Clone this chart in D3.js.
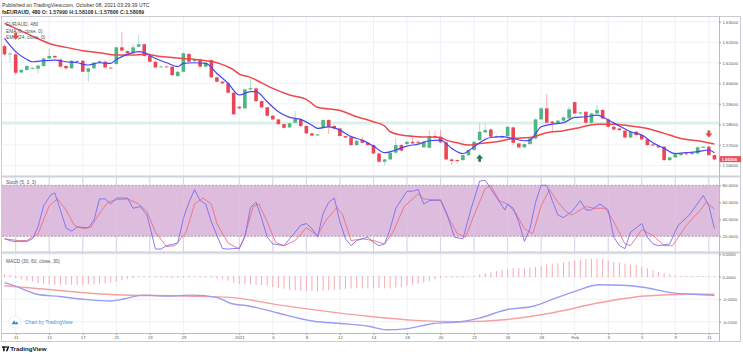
<!DOCTYPE html>
<html><head><meta charset="utf-8">
<script src="https://cdn.jsdelivr.net/npm/d3@7"></script>
<style>body{margin:0;background:#fff;}svg{display:block;font-family:"Liberation Sans",Arial,sans-serif;}</style>
</head><body><svg id="c" width="743" height="356"></svg>
<script>
// ---------- DATA ----------
const opens=[1.6181,1.6141,1.6141,1.6053,1.6065,1.6071,1.6071,1.6084,1.6121,1.6133,1.6116,1.6084,1.6073,1.6108,1.6110,1.6056,1.6073,1.6100,1.6105,1.6076,
1.6094,1.6175,1.6157,1.6146,1.6178,1.6190,1.6133,1.6105,1.6079,1.6082,1.6081,1.6035,1.6056,1.6143,1.6108,1.6116,1.6081,1.6113,1.6029,1.6008,
1.6000,1.5954,1.5886,1.5878,1.5970,1.5975,1.5913,1.5883,1.5842,1.5824,1.5801,1.5785,1.5808,1.5824,1.5792,1.5756,1.5746,1.5785,1.5821,1.5792,
1.5780,1.5743,1.5736,1.5699,1.5723,1.5710,1.5699,1.5658,1.5618,1.5629,1.5662,1.5699,1.5704,1.5715,1.5715,1.5688,1.5686,1.5743,1.5740,1.5712,
1.5629,1.5626,1.5626,1.5650,1.5675,1.5723,1.5761,1.5775,1.5738,1.5743,1.5743,1.5785,1.5707,1.5688,1.5704,1.5731,1.5824,1.5878,1.5813,1.5805,
1.5818,1.5829,1.5908,1.5853,1.5861,1.5808,1.5853,1.5870,1.5824,1.5788,1.5780,1.5769,1.5736,1.5764,1.5748,1.5727,1.5702,1.5694,1.5691,1.5626,
1.5639,1.5650,1.5658,1.5655,1.5658,1.5686,1.5691,1.5650];
const highs=[1.6190,1.6150,1.6154,1.6070,1.6090,1.6080,1.6090,1.6125,1.6170,1.6138,1.6121,1.6088,1.6115,1.6113,1.6113,1.6076,1.6105,1.6113,1.6113,1.6080,
1.6178,1.6251,1.6159,1.6194,1.6235,1.6194,1.6138,1.6110,1.6086,1.6086,1.6086,1.6060,1.6150,1.6150,1.6121,1.6121,1.6105,1.6116,1.6032,1.6010,
1.6003,1.5957,1.5890,1.5975,1.6024,1.5980,1.5916,1.5886,1.5845,1.5827,1.5805,1.5808,1.5865,1.5830,1.5796,1.5760,1.5754,1.5826,1.5826,1.5796,
1.5783,1.5746,1.5740,1.5723,1.5740,1.5712,1.5702,1.5662,1.5634,1.5665,1.5736,1.5704,1.5720,1.5736,1.5720,1.5720,1.5769,1.5764,1.5772,1.5715,
1.5634,1.5629,1.5654,1.5678,1.5720,1.5805,1.5805,1.5780,1.5746,1.5748,1.5792,1.5790,1.5710,1.5708,1.5736,1.5829,1.5883,1.5948,1.5818,1.5822,
1.5838,1.5889,1.5912,1.5862,1.5865,1.5858,1.5894,1.5874,1.5828,1.5792,1.5784,1.5772,1.5768,1.5768,1.5752,1.5731,1.5706,1.5697,1.5695,1.5643,
1.5662,1.5662,1.5662,1.5668,1.5694,1.5694,1.5695,1.5654];
const lows=[1.6135,1.6100,1.6040,1.6048,1.6060,1.6068,1.6048,1.6080,1.6118,1.6120,1.6076,1.6068,1.6070,1.6100,1.6053,1.6008,1.6070,1.6097,1.6073,1.6070,
1.6089,1.6154,1.6141,1.6143,1.6175,1.6130,1.6100,1.6073,1.6076,1.6076,1.6035,1.6030,1.6053,1.6100,1.6100,1.6076,1.6076,1.6025,1.6003,1.5995,
1.5950,1.5845,1.5872,1.5875,1.5965,1.5908,1.5878,1.5838,1.5820,1.5797,1.5780,1.5782,1.5805,1.5788,1.5751,1.5740,1.5743,1.5780,1.5753,1.5775,
1.5740,1.5731,1.5694,1.5694,1.5707,1.5694,1.5655,1.5612,1.5602,1.5624,1.5658,1.5668,1.5700,1.5704,1.5704,1.5685,1.5683,1.5731,1.5707,1.5624,
1.5602,1.5610,1.5621,1.5646,1.5672,1.5720,1.5756,1.5736,1.5733,1.5731,1.5740,1.5700,1.5683,1.5683,1.5699,1.5727,1.5820,1.5805,1.5764,1.5801,
1.5813,1.5826,1.5849,1.5849,1.5803,1.5796,1.5849,1.5824,1.5783,1.5770,1.5768,1.5731,1.5731,1.5743,1.5723,1.5694,1.5693,1.5684,1.5620,1.5620,
1.5635,1.5646,1.5650,1.5651,1.5654,1.5683,1.5646,1.5625];
const closes=[1.6141,1.6145,1.6051,1.6065,1.6084,1.6074,1.6086,1.6121,1.6133,1.6126,1.6081,1.6073,1.6110,1.6104,1.6056,1.6073,1.6100,1.6108,1.6077,1.6073,
1.6175,1.6159,1.6146,1.6175,1.6190,1.6133,1.6105,1.6077,1.6082,1.6079,1.6040,1.6056,1.6146,1.6105,1.6113,1.6081,1.6100,1.6029,1.6008,1.6000,
1.5954,1.5849,1.5878,1.5970,1.5976,1.5913,1.5883,1.5842,1.5824,1.5801,1.5783,1.5805,1.5826,1.5792,1.5756,1.5745,1.5751,1.5821,1.5788,1.5780,
1.5743,1.5736,1.5699,1.5720,1.5710,1.5699,1.5658,1.5618,1.5629,1.5662,1.5699,1.5672,1.5715,1.5707,1.5710,1.5715,1.5743,1.5736,1.5712,1.5629,
1.5621,1.5621,1.5650,1.5675,1.5715,1.5764,1.5772,1.5740,1.5741,1.5736,1.5788,1.5710,1.5688,1.5704,1.5731,1.5824,1.5878,1.5808,1.5805,1.5818,
1.5834,1.5873,1.5853,1.5858,1.5808,1.5853,1.5870,1.5829,1.5788,1.5775,1.5772,1.5736,1.5764,1.5748,1.5727,1.5699,1.5697,1.5688,1.5626,1.5639,
1.5658,1.5658,1.5654,1.5662,1.5688,1.5691,1.5650,1.5629];

const emaFast=[[0,1.6219],[2,1.6154],[4,1.6116],[5,1.6105],[7,1.6110],[9,1.6113],[11,1.6105],[13,1.6100],[15,1.6089],[17,1.6100],[19,1.6097],[20,1.6116],
[22,1.6141],[24,1.6154],[25,1.6149],[27,1.6121],[29,1.6100],[31,1.6081],[32,1.6097],[34,1.6100],[36,1.6097],[38,1.6048],[40,1.6000],[42,1.5943],
[44,1.5959],[45,1.5959],[47,1.5910],[49,1.5861],[51,1.5834],[53,1.5824],[55,1.5796],[56,1.5780],[58,1.5788],[60,1.5772],[62,1.5740],[64,1.5723],
[66,1.5694],[68,1.5662],[70,1.5675],[72,1.5694],[74,1.5704],[76,1.5720],[78,1.5723],[80,1.5683],[82,1.5658],[84,1.5691],[86,1.5727],[87,1.5736],
[89,1.5740],[91,1.5731],[93,1.5720],[94,1.5723],[96,1.5788],[98,1.5801],[100,1.5808],[102,1.5834],[104,1.5837],[106,1.5845],[108,1.5821],[110,1.5792],
[112,1.5764],[114,1.5748],[116,1.5710],[118,1.5683],[120,1.5658],[122,1.5662],[124,1.5667],[126,1.5675],[127,1.5662]];
const emaSlow=[[0,1.6292],[5,1.6230],[8,1.6194],[11,1.6175],[14,1.6159],[17,1.6149],[20,1.6138],[23,1.6138],[25,1.6141],[28,1.6130],[32,1.6121],
[35,1.6113],[38,1.6100],[41,1.6065],[42,1.6045],[44,1.6029],[45,1.6016],[48,1.5975],[51,1.5943],[54,1.5922],[56,1.5883],[60,1.5867],[63,1.5837],
[66,1.5813],[68,1.5792],[69,1.5764],[71,1.5748],[74,1.5740],[78,1.5736],[79,1.5723],[81,1.5710],[83,1.5699],[85,1.5707],[88,1.5715],[91,1.5731],
[94,1.5736],[97,1.5759],[100,1.5769],[103,1.5785],[106,1.5801],[109,1.5801],[112,1.5792],[115,1.5780],[118,1.5756],[121,1.5731],[124,1.5720],[127,1.5704]];

const stochK=[[0,17],[1.5,14],[4,14],[5,17],[6,31],[7,56],[8.3,69],[9,71],[10,51],[11,30],[12,26],[13,31],[15,30],[16,39],[17,64],[18,64],[19,58],[20,65],
[22,65],[23,53],[24.3,55],[25.5,45],[27,5],[28,5],[29,9],[31,12],[32,41],[33,60],[34,75],[35,62],[36,58],[37,37],[38,21],[39,5.5],[40,5],[42,6],[43,19],
[44,54],[45,60],[46,41],[47,19],[48,11],[50,9],[51,17],[53,33],[54,35],[55,29],[56,19],[57,47],[58,60],[59,65],[60,37],[61,17],[62,9],[63,15],[64,17],
[65,19],[66,13],[67,9],[68,11],[69,29],[70,53],[72,73],[73,73],[74,75],[75,58],[76,62],[78,63],[79,49],[80.5,19],[82,17],[83.5,53],[85,85],[86,86],
[87,76],[88,66],[89.5,51],[90,58],[91,53],[92,37],[93,14],[94,29],[95,60],[96,80],[97,80],[98,62],[99,45],[100,42],[101.5,49],[103,62],[104,51],[105,51],
[106.5,58],[108,51],[109,19],[110,9],[111,5.5],[112,25],[114,35],[115,19],[116,11],[117,9],[119,11],[120.5,33],[122.5,45],[125,68],[126,56],[127,29]];
const stochD=[[0,17],[2.5,15],[4,15],[6,23],[8,56],[9.5,64],[11,51],[12.5,33],[14,29],[15.5,31],[17,47],[18.5,60],[20,63],[22,64],[24,58],[25.5,49],
[27,25],[29,8],[30.5,9],[32.5,25],[34,58],[35.5,65],[37,58],[38,35],[40,12],[42,5],[43,21],[44.5,55],[45.5,58],[47,37],[48.5,13],[50,9],[52,15],[54,30],
[56,21],[57.5,39],[59.5,54],[60.5,45],[62,15],[64,17],[66,15],[68,11],[69.5,25],[71.5,55],[74,70],[75,64],[78,62],[79,47],[81,23],[82.5,19],[84,45],
[86,76],[87,80],[88.5,62],[90,58],[91.5,47],[93,29],[94.5,23],[96,56],[97.5,75],[99,60],[100.5,49],[101.5,45],[104,55],[105.5,53],[107.5,53],[109,37],
[111,11],[112,9],[114,28],[116,21],[118,9],[119.5,9],[122,33],[124.5,51],[125.5,60],[127,52]];

const macdLine=[[0,-0.0013],[1.7,-0.0020],[5.8,-0.0039],[9.9,-0.0044],[14,-0.0050],[19,-0.0054],[21.5,-0.0049],[24.8,-0.0041],[28.9,-0.0043],
[33.8,-0.0041],[37.9,-0.0046],[40.4,-0.0059],[43.7,-0.0065],[48.7,-0.0080],[55.3,-0.0099],[60.2,-0.0104],[65.1,-0.0110],[68.4,-0.0118],[71.7,-0.0116],
[76.7,-0.0104],[81.6,-0.0100],[84.9,-0.0092],[89.9,-0.0073],[94.8,-0.0065],[98.1,-0.0050],[102.2,-0.0032],[106.4,-0.0018],[110.5,-0.0019],
[114.6,-0.0024],[119.5,-0.0036],[126.2,-0.0041],[127,-0.0042]];
const signalLine=[[0,-0.0020],[7.4,-0.0028],[19.8,-0.0040],[32.2,-0.0043],[40.4,-0.0046],[48.7,-0.0062],[56.9,-0.0076],[65.1,-0.0088],[73.4,-0.0097],
[81.6,-0.0100],[89.9,-0.0095],[98.1,-0.0080],[106.4,-0.0058],[114.6,-0.0043],[122.9,-0.0039],[127,-0.0039]];
const macdHist=[0.0006,0.0004,-0.0003,-0.0006,-0.0009,-0.0011,-0.0014,-0.0016,-0.0017,-0.0018,-0.0018,-0.0018,-0.0018,-0.0018,-0.0018,-0.0017,-0.0017,
-0.0016,-0.0015,-0.0013,-0.0011,-0.0008,-0.0005,-0.0003,-0.00015,-0.0001,-0.0001,-0.00015,-0.00015,-0.0002,-0.0003,-0.0002,-0.00015,-0.00015,-0.0001,
-0.00015,-0.00015,-0.0002,-0.0004,-0.0005,-0.0009,-0.0014,-0.0016,-0.0017,-0.0017,-0.0018,-0.0019,-0.0020,-0.0023,-0.0025,-0.0027,-0.0029,-0.0030,
-0.0031,-0.0032,-0.0032,-0.0032,-0.0031,-0.0030,-0.0029,-0.0028,-0.0027,-0.0026,-0.0026,-0.0026,-0.0026,-0.0026,-0.0025,-0.0026,-0.0026,-0.0024,
-0.0023,-0.0020,-0.0018,-0.0016,-0.0013,-0.0010,-0.0006,-0.0003,-0.0002,-0.00015,-0.00015,-0.00015,0.00005,0.0002,0.0005,0.0008,0.0011,0.0013,0.0015,
0.0017,0.0019,0.0019,0.0019,0.0020,0.0021,0.0023,0.0027,0.0029,0.0030,0.0032,0.0034,0.0036,0.0038,0.0040,0.0040,0.0040,0.0039,0.0036,0.0033,0.0031,
0.0029,0.0027,0.0026,0.0023,0.0019,0.0015,0.0011,0.0008,0.0005,0.0003,0.00015,0.0001,0.0001,0.0001,0.0001,0.0001,-0.0001];

const xTickIdx=[2,8,14,20,26,32,42,48,54,60,66,72,78,84,90,96,102,108,114,120,126];
const xTickLabels=["11","15","17","21","23","29","2021","6","8","12","14","18","20","22","26","28","Feb","3","5","9","11"];
const priceTicks=[1.56,1.57,1.58,1.59,1.60,1.61,1.62,1.63];
const stochTicks=[0,20,40,60,80];
const macdTicks=[0.005,0,-0.005,-0.01];
const refLevel=1.5808;
const upArrows=[[85,1.5635]];
const downArrows=[[2,1.6230],[126,1.5753]];
const lastPrice=1.56306, lastPriceText="1.56306";

// ---------- LAYOUT ----------
const svg=d3.select("#c");
const L=2,R=719;
const P={t:17,b:176}, S={t:177,b:252}, M={t:253,b:333};
const x=d3.scaleLinear().domain([0,127]).range([4.5,4.5+5.59*127]);
const y=d3.scaleLinear().domain([1.56,1.63]).range([165.4,21.7]);
const ys=d3.scaleLinear().domain([0,100]).range([253.3,168.3]);
const ym=d3.scaleLinear().domain([-0.01,0]).range([321.7,276.7]);
const gridC="#eef1f7", fs=4.3, axC="#555";

const defs=svg.append("defs");
[["cp",P],["cs",S],["cm",M]].forEach(([id,p])=>defs.append("clipPath").attr("id",id).append("rect").attr("x",L).attr("y",p.t).attr("width",R-L).attr("height",p.b-p.t));
[["ap",P],["as",S],["am",M]].forEach(([id,p])=>defs.append("clipPath").attr("id",id).append("rect").attr("x",R).attr("y",p.t).attr("width",742-R).attr("height",p.b-p.t));

// grid
const g=svg.append("g");
xTickIdx.forEach(k=>g.append("line").attr("x1",x(k)).attr("x2",x(k)).attr("y1",P.t).attr("y2",M.b).attr("stroke",gridC).attr("stroke-width",1));
priceTicks.forEach(p=>g.append("line").attr("x1",L).attr("x2",R).attr("y1",y(p)).attr("y2",y(p)).attr("stroke",gridC).attr("clip-path","url(#cp)"));
macdTicks.forEach(p=>g.append("line").attr("x1",L).attr("x2",R).attr("y1",ym(p)).attr("y2",ym(p)).attr("stroke",gridC).attr("clip-path","url(#cm)"));

// ---------- PRICE PANEL ----------
const pp=svg.append("g").attr("clip-path","url(#cp)");
pp.append("line").attr("x1",L).attr("x2",R).attr("y1",y(refLevel)).attr("y2",y(refLevel)).attr("stroke","#d3eee2").attr("stroke-width",2);
const up="#4fb583", dn="#ec4656";
const idx=d3.range(opens.length);
pp.selectAll(".wick").data(idx).join("line").attr("x1",k=>x(k)).attr("x2",k=>x(k))
  .attr("y1",k=>y(highs[k])).attr("y2",k=>y(lows[k])).attr("stroke",k=>closes[k]>=opens[k]?up:dn).attr("stroke-opacity",0.55).attr("stroke-width",0.8);
pp.selectAll(".body").data(idx).join("rect").attr("x",k=>x(k)-1.8).attr("width",3.6)
  .attr("y",k=>y(Math.max(opens[k],closes[k]))).attr("height",k=>Math.max(0.8,Math.abs(y(opens[k])-y(closes[k]))))
  .attr("fill",k=>closes[k]>=opens[k]?up:dn);
const lineP=d3.line().x(d=>x(d[0])).y(d=>y(d[1])).curve(d3.curveMonotoneX);
pp.append("path").attr("d",lineP(emaSlow)).attr("fill","none").attr("stroke","#f0474c").attr("stroke-width",1.5);
pp.append("path").attr("d",lineP(emaFast)).attr("fill","none").attr("stroke","#4a45f0").attr("stroke-width",1.2);

// legend
const lg=svg.append("g").attr("font-size",4.8).attr("fill","#555");
lg.append("text").attr("x",6).attr("y",26.2).text("EUR/AUD, 480");
lg.append("text").attr("x",6).attr("y",32.8).text("EMA (6, close, 0)");
lg.append("text").attr("x",6).attr("y",39.4).text("EMA (24, close, 0)");

// arrows
function arrow(k,p,dir,col){
  const cx=x(k), cy=y(p);
  const d = dir<0 ? `M${cx-1.4},${cy-3.6}h2.8v3.2h2.2l-3.6,4l-3.6,-4h2.2z`
                  : `M${cx-1.4},${cy+3.6}h2.8v-3.2h2.2l-3.6,-4l-3.6,4h2.2z`;
  svg.append("path").attr("d",d).attr("fill",col);
}
downArrows.forEach(a=>arrow(a[0],a[1],-1,"#e1503e"));
upArrows.forEach(a=>arrow(a[0],a[1],1,"#27784e"));

// ---------- STOCH PANEL ----------
const sp=svg.append("g").attr("clip-path","url(#cs)");
sp.append("rect").attr("x",L).attr("width",R-L).attr("y",ys(80)).attr("height",ys(20)-ys(80)).attr("fill","#ddbcdd");
[80,20].forEach(v=>sp.append("line").attr("x1",L).attr("x2",R).attr("y1",ys(v)).attr("y2",ys(v)).attr("stroke","#a090a0").attr("stroke-dasharray","2,1.5").attr("stroke-width",0.8));
[60,40].forEach(v=>sp.append("line").attr("x1",L).attr("x2",R).attr("y1",ys(v)).attr("y2",ys(v)).attr("stroke","#d6c2de").attr("stroke-width",0.6));
xTickIdx.forEach(k=>sp.append("line").attr("x1",x(k)).attr("x2",x(k)).attr("y1",S.t).attr("y2",S.b).attr("stroke","#d8c6e2").attr("stroke-width",0.8));
const lineS=d3.line().x(d=>x(d[0])).y(d=>ys(d[1]));
sp.append("path").attr("d",lineS(stochD)).attr("fill","none").attr("stroke","#ee6d83").attr("stroke-width",0.9);
sp.append("path").attr("d",lineS(stochK)).attr("fill","none").attr("stroke","#7d6cf0").attr("stroke-width",0.9);
svg.append("text").attr("x",6).attr("y",183.5).attr("font-size",4.8).attr("fill","#555").text("Stoch (5, 3, 3)");

// ---------- MACD PANEL ----------
const mp=svg.append("g").attr("clip-path","url(#cm)");
mp.selectAll(".h").data(idx).join("line").attr("x1",k=>x(k)).attr("x2",k=>x(k))
  .attr("y1",ym(0)).attr("y2",k=>ym(macdHist[k])).attr("stroke","#f5a3a9").attr("stroke-width",0.9);
mp.selectAll(".hz").data(idx).join("rect").attr("x",k=>x(k)-0.45).attr("width",0.9).attr("y",ym(0)-0.4).attr("height",0.8).attr("fill","#f5a3a9");
const lineM=d3.line().x(d=>x(d[0])).y(d=>ym(d[1])).curve(d3.curveMonotoneX);
mp.append("path").attr("d",lineM(signalLine)).attr("fill","none").attr("stroke","#f6a0a4").attr("stroke-width",1.4);
mp.append("path").attr("d",lineM(macdLine)).attr("fill","none").attr("stroke","#9b9cf4").attr("stroke-width",1.4);
svg.append("text").attr("x",6).attr("y",262.8).attr("font-size",4.8).attr("fill","#555").text("MACD (30, 60, close, 30)");

// Chart by TradingView
svg.append("circle").attr("cx",15).attr("cy",322).attr("r",6).attr("fill","#fff").attr("stroke","#e3e6ec").attr("stroke-width",0.7);
svg.append("path").attr("d","M11.5,324.2h7l-1.6,-2.6l-1.4,1.2l-1.2,-2.6z").attr("fill","#2e8fd8");
svg.append("text").attr("x",25).attr("y",323.7).attr("font-size",5).attr("fill","#3a9ae0").text("Chart by TradingView");

// ---------- FRAME / SEPARATORS ----------
const fr=svg.append("g").attr("fill","none");
fr.append("rect").attr("x",1.5).attr("y",16.5).attr("width",739).attr("height",325).attr("stroke","#c9ccd2").attr("stroke-width",1);
fr.append("line").attr("x1",L).attr("x2",741).attr("y1",176.5).attr("y2",176.5).attr("stroke","#cfd2d8").attr("stroke-width",2);
fr.append("line").attr("x1",L).attr("x2",741).attr("y1",252.5).attr("y2",252.5).attr("stroke","#cfd2d8").attr("stroke-width",2);
fr.append("line").attr("x1",R+0.5).attr("x2",R+0.5).attr("y1",16.5).attr("y2",341.5).attr("stroke","#b8bcc4").attr("stroke-width",1);
fr.append("line").attr("x1",L).attr("x2",R).attr("y1",333.5).attr("y2",333.5).attr("stroke","#b8bcc4").attr("stroke-width",1);

// ---------- AXES ----------
function styleAxis(sel){
  sel.attr("font-size",fs).attr("font-family","Liberation Sans, Arial, sans-serif");
  sel.select(".domain").remove();
  sel.selectAll(".tick line").attr("stroke","#999");
  sel.selectAll(".tick text").attr("fill",axC);
}
const fmtSigned=d=>(d<0?"-":"")+Math.abs(d).toFixed(4);
svg.append("g").attr("clip-path","url(#ap)").append("g").attr("transform",`translate(${R},0)`)
  .call(d3.axisRight(y).tickValues(priceTicks).tickFormat(d=>d.toFixed(5)).tickSize(2).tickPadding(1.5)).call(styleAxis);
svg.append("g").attr("clip-path","url(#as)").append("g").attr("transform",`translate(${R},0)`)
  .call(d3.axisRight(ys).tickValues(stochTicks).tickFormat(d=>d.toFixed(4)).tickSize(2).tickPadding(1.5)).call(styleAxis);
svg.append("g").attr("clip-path","url(#am)").append("g").attr("transform",`translate(${R},0)`)
  .call(d3.axisRight(ym).tickValues(macdTicks).tickFormat(fmtSigned).tickSize(2).tickPadding(1.5)).call(styleAxis);
svg.append("g").attr("transform",`translate(0,333.5)`)
  .call(d3.axisBottom(x).tickValues(xTickIdx).tickFormat((d,i)=>xTickLabels[i]).tickSize(1.5).tickPadding(1)).call(styleAxis);

// last price label
const lp=svg.append("g");
lp.append("rect").attr("x",R+0.5).attr("y",y(lastPrice)-3).attr("width",21.5).attr("height",6).attr("fill","#ee4c5b");
lp.append("text").attr("x",R+2.5).attr("y",y(lastPrice)+1.6).attr("font-size",fs).attr("font-weight","bold").attr("fill","#fff").text(lastPriceText);

// ---------- HEADER / FOOTER ----------
svg.append("text").attr("x",2).attr("y",6.6).attr("font-size",5.2).attr("fill","#333").text("Published on TradingView.com, October 08, 2021 03:29:39 UTC");
const h2=svg.append("text").attr("x",2).attr("y",13.6).attr("font-size",5.2).attr("fill","#222");
h2.append("tspan").attr("font-weight","bold").text("fxEURAUD, 480 ");
h2.append("tspan").attr("font-weight","bold").attr("fill","#333").text("O: 1.57990 H:1.58108 L:1.57806 C:1.58089");

const logo=svg.append("g").attr("fill","#131722");
logo.append("path").attr("d","M2,346.2h3.8v1.5h-1.1v3.6h-1.6v-3.6h-1.1z");
logo.append("circle").attr("cx",6.6).attr("cy",347).attr("r",0.8);
logo.append("path").attr("d","M7.6,346.2h1.8l-1.8,5.1h-1.7z");
svg.append("text").attr("x",10.2).attr("y",351.2).attr("font-size",6.2).attr("font-weight","bold").attr("fill","#131722").text("TradingView");
</script></body></html>
